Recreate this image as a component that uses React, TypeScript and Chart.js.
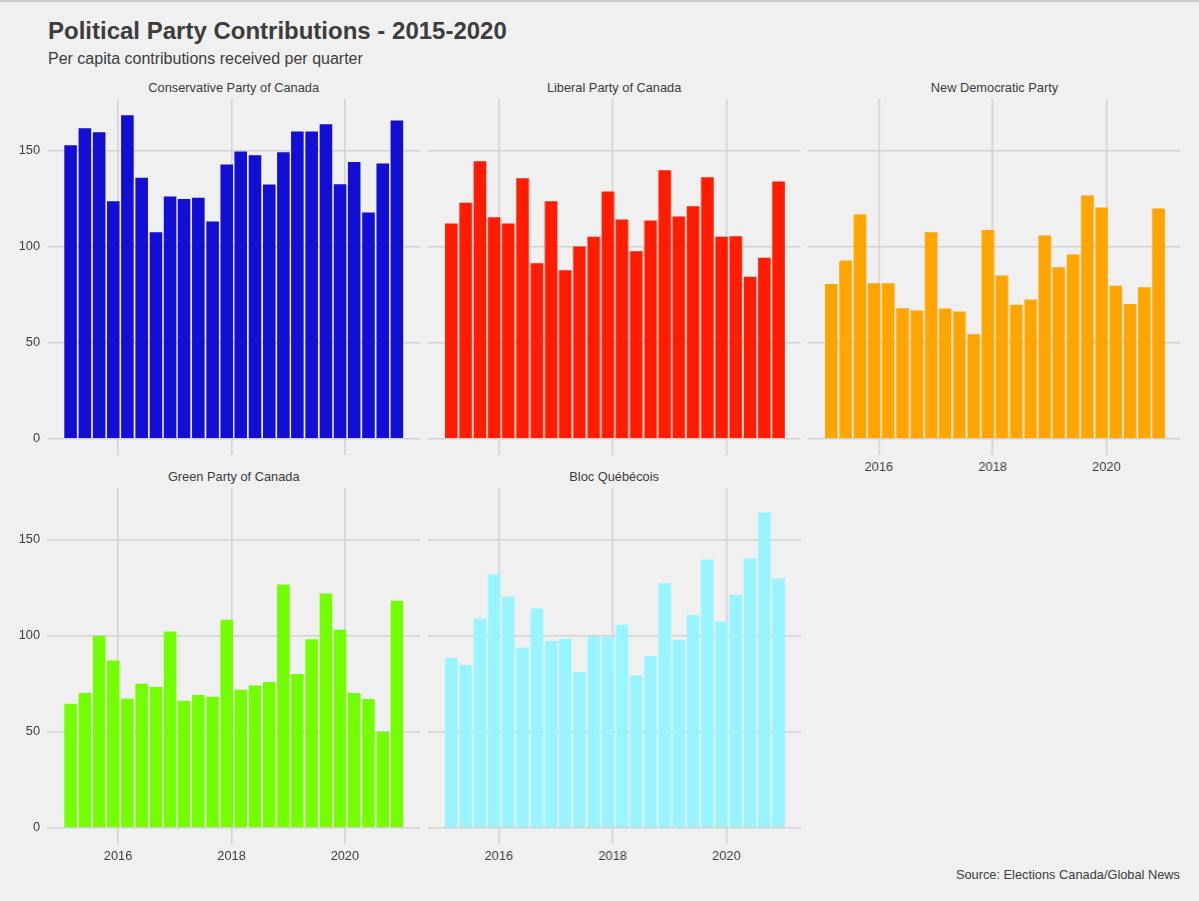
import { useEffect, useRef } from "react"
import { Chart, registerables, type ChartConfiguration } from "chart.js"

Chart.register(...registerables)

// quarter dates (first day of the last month of each quarter)
const quarters = [
  "2015-03-01", "2015-06-01", "2015-09-01", "2015-12-01",
  "2016-03-01", "2016-06-01", "2016-09-01", "2016-12-01",
  "2017-03-01", "2017-06-01", "2017-09-01", "2017-12-01",
  "2018-03-01", "2018-06-01", "2018-09-01", "2018-12-01",
  "2019-03-01", "2019-06-01", "2019-09-01", "2019-12-01",
  "2020-03-01", "2020-06-01", "2020-09-01", "2020-12-01",
]
const yearTicks = [2016, 2018, 2020]
const valueTicks = [0, 50, 100, 150]

const conservative = [152.8, 161.6, 159.5, 123.6, 168.4, 135.9, 107.5, 126.1, 124.8, 125.5, 113.1, 142.7, 149.5, 147.6, 132.3, 149.1, 159.9, 159.9, 163.7, 132.5, 144.1, 117.7, 143.2, 165.6]
const liberal = [112.0, 122.9, 144.4, 115.3, 112.0, 135.6, 91.4, 123.6, 87.7, 100.1, 105.1, 128.7, 114.1, 97.6, 113.6, 139.8, 115.7, 121.0, 136.1, 105.1, 105.4, 84.3, 94.2, 133.9]
const ndp = [80.5, 92.8, 116.7, 81.0, 81.0, 68.0, 66.8, 107.5, 67.8, 66.2, 54.4, 108.7, 85.0, 69.7, 72.5, 105.8, 89.3, 95.9, 126.6, 120.3, 79.6, 70.1, 78.9, 119.8]
const green = [64.6, 70.1, 99.8, 87.0, 67.2, 75.0, 73.3, 102.1, 66.1, 69.1, 68.2, 108.3, 71.9, 74.0, 75.9, 126.6, 80.0, 98.1, 121.9, 103.1, 70.1, 67.0, 50.0, 118.1]
const bloc = [88.5, 84.7, 108.9, 131.8, 120.3, 93.8, 114.1, 97.2, 98.4, 81.1, 99.7, 99.3, 105.7, 79.2, 89.4, 127.3, 97.9, 110.8, 139.6, 107.3, 121.2, 140.1, 164.1, 129.7]

const partyNames = ["Conservative Party of Canada", "Liberal Party of Canada", "New Democratic Party", "Green Party of Canada", "Bloc Québécois"]
const partyValues = [conservative, liberal, ndp, green, bloc]
const partyColors = ["#120ED4", "#FF1C00", "#FFA500", "#73FF00", "#98F5FF"]

const BG = "#F0F0F0"
const GRID = "#D2D2D2"
const TEXT = "#3C3C3C"
const FONT = "'Liberation Sans', Arial, Helvetica, sans-serif"

// panel geometry
const PLOT_W = 372.75
const PLOT_H = 356
const COL_LEFT = [47.35, 427.75, 808.15]
const ROW_TOP = [99, 487.5]
const Y_AXIS_W = 47.35
const X_AXIS_H = 26

const DAY = 86400000
const toDays = (s: string) => {
  const [y, m, d] = s.split("-").map(Number)
  return Date.UTC(y, m - 1, d) / DAY
}
const xs = quarters.map(toDays)

// ggplot-like limits: bar width 0.9 of resolution, 5% expansion
const resolution = Math.min(...xs.slice(1).map((v, i) => v - xs[i]))
const halfBar = (resolution * 0.9) / 2
const xLo = xs[0] - halfBar
const xHi = xs[xs.length - 1] + halfBar
const X_MIN = xLo - (xHi - xLo) * 0.05
const X_MAX = xHi + (xHi - xLo) * 0.05
const maxValue = Math.max(...partyValues.flat())
const Y_MIN = -maxValue * 0.05
const Y_MAX = maxValue * 1.05

interface PanelProps {
  values: number[]
  color: string
  showX: boolean
  showY: boolean
}

function Panel({ values, color, showX, showY }: PanelProps) {
  const canvasRef = useRef<HTMLCanvasElement>(null)

  useEffect(() => {
    if (!canvasRef.current) return
    const config: ChartConfiguration<"bar"> = {
      type: "bar",
      data: {
        datasets: [
          {
            data: values.map((v, i) => ({ x: xs[i], y: v })) as any,
            backgroundColor: color,
            borderWidth: 0,
            barPercentage: 0.9,
            categoryPercentage: 1,
          },
        ],
      },
      options: {
        animation: false,
        responsive: true,
        maintainAspectRatio: false,
        layout: { padding: 0, autoPadding: false },
        plugins: { legend: { display: false }, tooltip: { enabled: false } },
        scales: {
          x: {
            type: "linear",
            min: X_MIN,
            max: X_MAX,
            offset: false,
            grid: { color: GRID, lineWidth: 1.6, drawTicks: false, offset: false },
            border: { display: false },
            ticks: {
              display: showX,
              padding: 5,
              color: TEXT,
              font: { family: FONT, size: 12.8 },
              callback: (v) => String(new Date(Number(v) * DAY).getUTCFullYear()),
            },
            afterBuildTicks: (s) => {
              s.ticks = yearTicks.map((y) => ({ value: Date.UTC(y, 0, 1) / DAY }))
            },
            afterFit: (s) => {
              s.height = showX ? X_AXIS_H : 0
              s.paddingLeft = 0
              s.paddingRight = 0
            },
          },
          y: {
            type: "linear",
            min: Y_MIN,
            max: Y_MAX,
            grid: { color: GRID, lineWidth: 1.6, drawTicks: false },
            border: { display: false },
            ticks: {
              display: showY,
              padding: 7.35,
              color: TEXT,
              font: { family: FONT, size: 12.8 },
            },
            afterBuildTicks: (s) => {
              s.ticks = valueTicks.map((v) => ({ value: v }))
            },
            afterFit: (s) => {
              s.width = showY ? Y_AXIS_W : 0
              s.paddingTop = 0
              s.paddingBottom = 0
            },
          },
        },
      },
    }
    const chart = new Chart(canvasRef.current, config)
    return () => chart.destroy()
  }, [values, color, showX, showY])

  return <canvas ref={canvasRef} />
}

export default function App() {
  return (
    <div
      style={{
        position: "fixed",
        left: 0,
        top: 0,
        width: 1199,
        height: 901,
        background: BG,
        fontFamily: FONT,
        color: TEXT,
        borderTop: "2px solid #C8C8C8",
        boxSizing: "border-box",
        overflow: "hidden",
      }}
    >
      <div style={{ position: "absolute", left: 48, top: 17, fontSize: 24, fontWeight: "bold", lineHeight: 1, whiteSpace: "nowrap" }}>
        Political Party Contributions - 2015-2020
      </div>
      <div style={{ position: "absolute", left: 48, top: 49, fontSize: 16, lineHeight: 1, whiteSpace: "nowrap" }}>
        Per capita contributions received per quarter
      </div>
      {partyNames.map((name, i) => {
        const col = i % 3
        const row = Math.floor(i / 3)
        const showY = col === 0
        const showX = row === 1 || i === 2
        const left = COL_LEFT[col] - (showY ? Y_AXIS_W : 0)
        const top = ROW_TOP[row]
        const width = PLOT_W + (showY ? Y_AXIS_W : 0)
        const height = PLOT_H + (showX ? X_AXIS_H : 0)
        return (
          <div key={name}>
            <div
              style={{
                position: "absolute",
                left: COL_LEFT[col],
                top: top - 19,
                width: PLOT_W,
                textAlign: "center",
                fontSize: 12.8,
                lineHeight: 1,
                whiteSpace: "nowrap",
              }}
            >
              {name}
            </div>
            <div style={{ position: "absolute", left, top: top - 2, width, height }}>
              <Panel values={partyValues[i]} color={partyColors[i]} showX={showX} showY={showY} />
            </div>
          </div>
        )
      })}
      <div style={{ position: "absolute", right: 19, top: 867, fontSize: 12.8, lineHeight: 1, whiteSpace: "nowrap" }}>
        Source: Elections Canada/Global News
      </div>
    </div>
  )
}
